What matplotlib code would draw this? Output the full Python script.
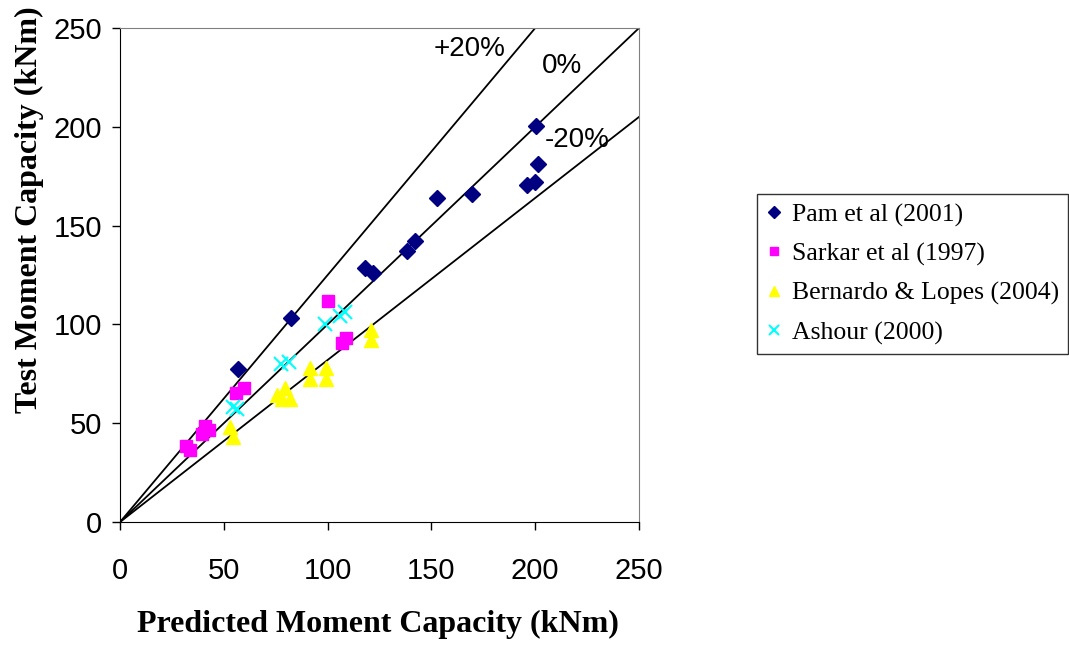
import matplotlib.pyplot as plt

# predicted vs test moment capacity (kNm)
pam_pred = [57.0, 82.2, 117.9, 122.0, 138.4, 142.1, 152.9, 169.4, 196.2, 199.9, 201.3, 200.4]
pam_test = [77.3, 103.1, 128.4, 125.8, 137.3, 142.3, 163.8, 165.8, 170.7, 172.0, 181.3, 200.4]

sarkar_pred = [32.0, 33.5, 39.5, 41.0, 43.0, 55.7, 59.8, 100.0, 106.9, 108.7]
sarkar_test = [38.5, 36.5, 44.5, 48.5, 46.5, 65.4, 67.7, 111.8, 90.4, 93.3]

bernardo_pred = [53.0, 54.6, 75.5, 77.9, 79.5, 81.9, 91.5, 91.5, 99.1, 99.1, 120.9, 120.9]
bernardo_test = [48.2, 43.2, 64.3, 62.0, 67.7, 62.0, 77.8, 72.3, 77.8, 72.3, 97.2, 92.1]

ashour_pred = [54.6, 56.2, 77.4, 81.5, 98.8, 106.0, 108.4]
ashour_test = [58.4, 57.3, 80.2, 81.2, 100.0, 104.2, 106.4]

# reference lines: slope of test/predicted
band_labels = ["+20%", "0%", "-20%"]
band_slopes = [1.25, 1.0, 0.82]

fig = plt.figure(figsize=(10.69, 6.45), dpi=100)
ax = fig.add_axes([0.1123, 0.1907, 0.4855, 0.7659])

for s in band_slopes:
    ax.plot([0, 250], [0, 250 * s], color="black", lw=1.3, zorder=1)

ax.plot(pam_pred, pam_test, "D", color="#000080", ms=8, ls="none",
        label="Pam et al (2001)", zorder=3)
ax.plot(sarkar_pred, sarkar_test, "s", color="#FF00FF", ms=8, ls="none",
        label="Sarkar et al (1997)", zorder=3)
ax.plot(bernardo_pred, bernardo_test, "^", color="#FFFF00", ms=10, ls="none",
        label="Bernardo & Lopes (2004)", zorder=3)
ax.plot(ashour_pred, ashour_test, "x", color="#00FFFF", ms=10, mew=1.5, ls="none",
        label="Ashour (2000)", zorder=3)

txt_pos = [(168.5, 239.3), (212.9, 230.7), (220.1, 193.3)]
for lab, (tx, ty) in zip(band_labels, txt_pos):
    ax.text(tx, ty, lab, fontsize=20, family="Liberation Sans",
            ha="center", va="center")

ax.set_xlim(0, 250)
ax.set_ylim(0, 250)
ax.set_xticks(range(0, 251, 50))
ax.set_yticks(range(0, 251, 50))
ax.tick_params(direction="out", length=6, width=1, labelsize=21, pad=7)
for lbl in ax.get_xticklabels() + ax.get_yticklabels():
    lbl.set_family("Liberation Sans")
ax.tick_params(axis="x", pad=19)

for side in ("top", "right"):
    ax.spines[side].set_color("#808080")
for side in ("left", "bottom"):
    ax.spines[side].set_color("black")

ax.set_xlabel("Predicted Moment Capacity (kNm)", fontsize=23,
              family="Liberation Serif", fontweight="bold")
ax.set_ylabel("Test Moment Capacity (kNm)", fontsize=23,
              family="Liberation Serif", fontweight="bold")
ax.xaxis.set_label_coords(0.497, -0.177)
ax.yaxis.set_label_coords(-0.146, 0.632)

leg = fig.legend(loc="upper left", bbox_to_anchor=(0.708, 0.699),
                 prop={"family": "Liberation Serif", "size": 18.5},
                 frameon=True, fancybox=False, edgecolor="black",
                 handlelength=0.6, handletextpad=0.4, labelspacing=0.62,
                 borderpad=0.35, borderaxespad=0, markerscale=0.75)
leg.get_frame().set_linewidth(1.0)

fig.savefig("out.png", dpi=100)
